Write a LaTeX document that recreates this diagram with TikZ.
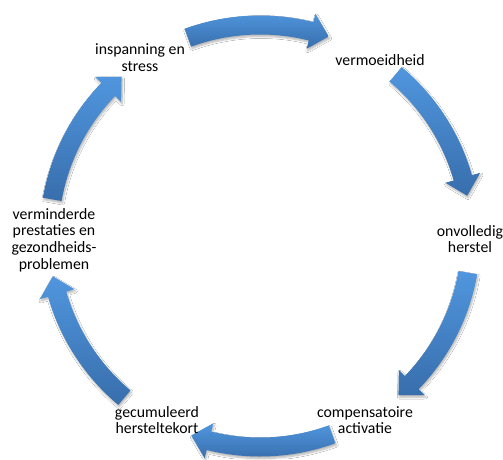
\documentclass[tikz,border=0pt]{standalone}
\usepackage{fontspec}
\setmainfont{Carlito}
\usetikzlibrary{shadows.blur}
\definecolor{arTop}{RGB}{80,150,222}
\definecolor{arBot}{RGB}{56,110,172}
\tikzset{
  lbl/.style={align=center, font=\fontsize{15.8}{16.6}\selectfont, inner sep=0pt, text=black},
  cyc/.style={top color=arTop, bottom color=arBot, draw=none,
    blur shadow={shadow xshift=1pt, shadow yshift=-2pt, shadow blur steps=6, shadow opacity=30}},
}
\def\R{211pt}
\def\Ro{220.5pt}
\def\Ri{201.5pt}
\def\Rho{229pt}
\def\Rhi{193pt}
\newcommand\cycarrow[1]{%
  \pgfmathsetmacro\ta{#1+20}%
  \pgfmathsetmacro\hb{#1-14}%
  \pgfmathsetmacro\tp{#1-19}%
  \path[cyc] (\ta:\Ro) arc[start angle=\ta, end angle=\hb, radius=\Ro]
    -- (\hb:\Rho) -- (\tp:\R) -- (\hb:\Rhi) -- (\hb:\Ri)
    arc[start angle=\hb, end angle=\ta, radius=\Ri] -- cycle;
}
\begin{document}
\begin{tikzpicture}
\useasboundingbox (0,0) rectangle (503pt,459pt);
\fill[white] (0,0) rectangle (503pt,459pt);
\coordinate (ctr) at (260pt,223pt);
\begin{scope}[shift={(ctr)}]
  \cycarrow{90}
  \cycarrow{30}
  \cycarrow{-30}
  \cycarrow{-90}
  \cycarrow{-150}
  \cycarrow{150}
\end{scope}
\node[lbl] (insp) at (140pt,401.5pt) {inspanning en\\stress};
\node[lbl] (verm) at (380pt,399pt) {vermoeidheid};
\node[lbl] (onvo) at (470pt,220pt) {onvolledig\\herstel};
\node[lbl] (comp) at (365pt,39pt) {compensatoire\\activatie};
\node[lbl] (gecu) at (157pt,39pt) {gecumuleerd\\hersteltekort};
\node[lbl] (vmin) at (54pt,219pt) {verminderde\\prestaties en\\gezondheids-\\problemen};
\end{tikzpicture}
\end{document}
